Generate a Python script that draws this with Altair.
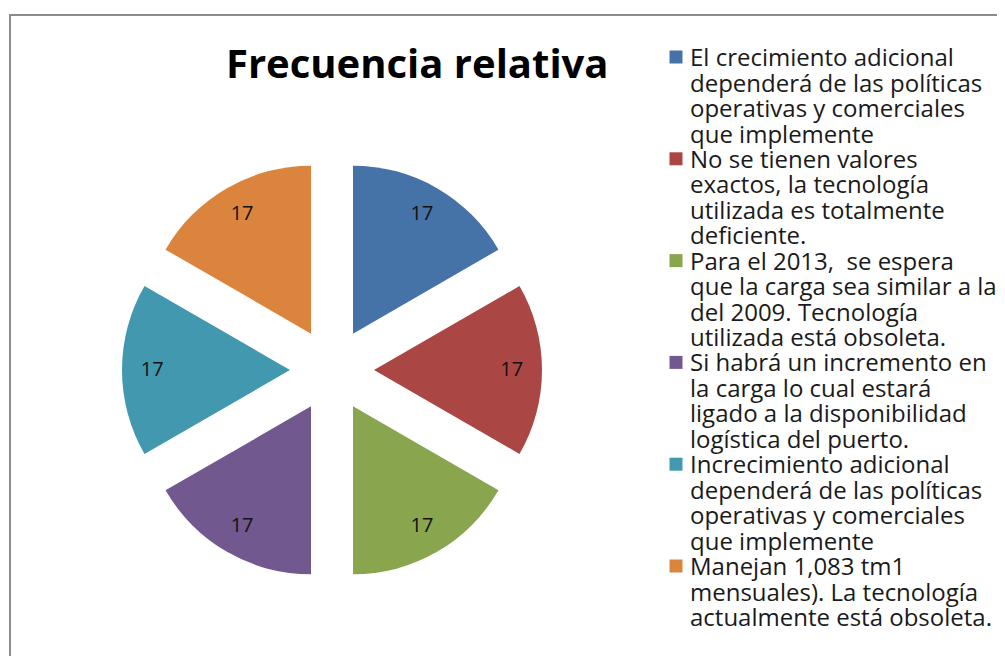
import altair as alt
import pandas as pd

categorias = [
    "El crecimiento adicional\ndependerá de las políticas\noperativas y comerciales\nque implemente",
    "No se tienen valores\nexactos, la tecnología\nutilizada es totalmente\ndeficiente.",
    "Para el 2013,\u00a0 se espera\nque la carga sea similar a la\ndel 2009. Tecnología\nutilizada está obsoleta.",
    "Si habrá un incremento en\nla carga lo cual estará\nligado a la disponibilidad\nlogística del puerto.",
    "Increcimiento adicional\ndependerá de las políticas\noperativas y comerciales\nque implemente",
    "Manejan 1,083 tm1\nmensuales). La tecnología\nactualmente está obsoleta.",
]
valores = [17, 17, 17, 17, 17, 17]
colores = ["#4572A7", "#AA4643", "#89A54E", "#71588F", "#4198AF", "#DB843D"]
titulo = "Frecuencia relativa"

df = pd.DataFrame({"categoria": categorias, "valor": valores, "orden": list(range(len(valores)))})

CX, CY, R, D = 324, 362, 168, 42
FONT = "Open Sans"

color = alt.Color(
    "categoria:N",
    sort=categorias,
    scale=alt.Scale(domain=categorias, range=colores),
    legend=None,
)

base = (
    alt.Chart(df)
    .transform_joinaggregate(total="sum(valor)")
    .transform_window(acum="sum(valor)", sort=[alt.SortField("orden")], frame=[None, 0])
    .transform_calculate(
        t0="2*PI*(datum.acum - datum.valor)/datum.total",
        t1="2*PI*datum.acum/datum.total",
        medio="2*PI*(datum.acum - datum.valor/2)/datum.total",
    )
    .transform_calculate(
        px=f"{CX} + {D}*sin(datum.medio)",
        py=f"{CY} - {D}*cos(datum.medio)",
    )
)

arcos = base.mark_arc(stroke=None).encode(
    x=alt.X("px:Q", scale=None),
    y=alt.Y("py:Q", scale=None),
    theta=alt.Theta("t0:Q", scale=None),
    theta2=alt.Theta2("t1:Q"),
    radius=alt.value(R),
    color=color,
)

textos = base.mark_text(font=FONT, fontSize=20, color="#111111").encode(
    x=alt.X("px:Q", scale=None),
    y=alt.Y("py:Q", scale=None),
    theta=alt.Theta("medio:Q", scale=None),
    radius=alt.value(R * 0.82),
    text=alt.Text("valor:Q", format=".0f"),
)

# legend (manual, to keep the wrapped labels aligned as in the reference)
ley_y = alt.Y(
    "categoria:N",
    sort=categorias,
    scale=alt.Scale(type="point", range=[49, 558], padding=0),
    axis=None,
)
ley_simbolos = alt.Chart(df).mark_square(size=169, opacity=1).encode(
    x=alt.value(668),
    y=ley_y,
    color=color,
)
ley_textos = alt.Chart(df).mark_text(
    align="left",
    baseline="alphabetic",
    lineBreak="\n",
    lineHeight=25.5,
    dy=9,
    font=FONT,
    fontSize=24,
    color="#1a1a1a",
).encode(
    x=alt.value(682),
    y=ley_y,
    text="categoria:N",
)

titulo_capa = alt.Chart(pd.DataFrame({"t": [titulo]})).mark_text(
    align="left", baseline="alphabetic", font=FONT, fontSize=40, fontWeight="bold", color="#000000"
).encode(x=alt.value(218), y=alt.value(70), text="t:N")

marco = alt.Chart(pd.DataFrame({"m": [0]})).mark_rect(
    fill="transparent", stroke="#8c8c8c", strokeWidth=2
).encode(x=alt.value(2), x2=alt.value(1300), y=alt.value(7), y2=alt.value(1000))

chart = (
    alt.layer(marco, arcos, textos, titulo_capa, ley_simbolos, ley_textos)
    .resolve_scale(y="independent")
    .properties(
        width=989,
        height=648,
        autosize=alt.AutoSizeParams(type="none"),
        padding=0,
    )
    .configure_view(stroke=None)
)

chart.save("out.html", embed_options={"renderer": "svg", "actions": False})
